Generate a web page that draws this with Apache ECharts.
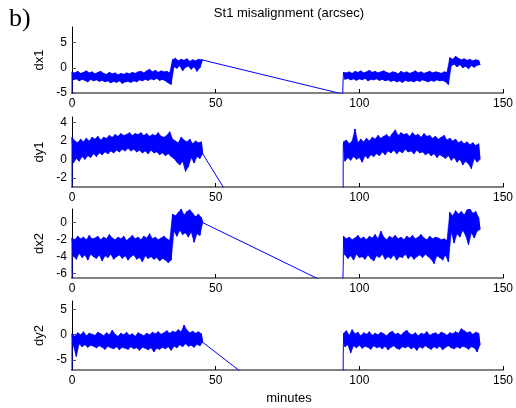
<!DOCTYPE html>
<html>
<head>
<meta charset="utf-8">
<script src="https://cdn.jsdelivr.net/npm/echarts@6.0.0/dist/echarts.min.js"></script>
<style>
  html, body { margin: 0; padding: 0; background: #fff; }
  #chart { width: 516px; height: 408px; }
</style>
</head>
<body>
<div id="chart"></div>
<script>
// ---- Sample times (minutes) ----
// First run: one sample pair per minute, from 0 to 45.
const seg1Minutes = [0,1,2,3,4,5,6,7,8,9,10,11,12,13,14,15,16,17,18,19,20,21,22,23,24,25,26,27,28,29,30,31,32,33,34,35,36,37,38,39,40,41,42,43,44,45];
// Second run: one sample pair per minute, from 94.5 to 141.5.
const seg2Minutes = [94.5,95.5,96.5,97.5,98.5,99.5,100.5,101.5,102.5,103.5,104.5,105.5,106.5,107.5,108.5,109.5,110.5,111.5,112.5,113.5,114.5,115.5,116.5,117.5,118.5,119.5,120.5,121.5,122.5,123.5,124.5,125.5,126.5,127.5,128.5,129.5,130.5,131.5,132.5,133.5,134.5,135.5,136.5,137.5,138.5,139.5,140.5,141.5];
// Outlier samples at the data gap
const gapMinute = 94.2;
const restartMinute = 94.4;

// ---- dx1 (arcsec): upper / lower excursion per minute ----
const dx1Start = -6;
const dx1Seg1Hi = [-0.9,-1.0,-0.7,-1.1,-0.9,-0.6,-1.0,-0.8,-1.2,-0.9,-0.7,-1.1,-1.3,-0.9,-1.2,-1.0,-1.4,-1.1,-1.3,-1.0,-1.2,-0.9,-1.1,-0.8,-0.7,-1.0,-0.6,-0.3,-0.8,-0.5,-0.9,-0.6,-0.8,-0.7,-1.0,
  1.6,1.9,1.4,1.7,1.5,1.8,1.3,1.6,1.4,1.7,1.6];
const dx1Seg1Lo = [-2.4,-2.2,-2.6,-2.3,-2.5,-2.8,-2.3,-2.6,-2.4,-2.7,-2.5,-2.8,-2.6,-3.0,-2.7,-2.9,-2.6,-3.1,-2.8,-2.7,-2.9,-2.6,-2.8,-2.4,-2.6,-2.3,-2.5,-2.2,-2.4,-2.1,-2.5,-2.3,-2.6,-3.0,-3.3,
  0.2,-0.1,0.4,-0.6,0.1,0.3,-0.3,0.2,-0.7,0.0,1.6];
const dx1Gap = -5.2;
const dx1Restart = -1.8;
const dx1Seg2Hi = [-0.9,-1.0,-0.8,-1.1,-0.7,-0.9,-0.6,-1.0,-0.8,-0.5,-0.9,-0.7,-1.0,-0.8,-0.6,-0.9,-1.1,-0.8,-0.9,-1.2,-0.7,-1.0,-0.8,-1.1,-0.9,-0.6,-1.0,-0.8,-1.1,-0.9,-0.7,-1.0,-0.8,-0.9,-1.1,-0.8,-0.9,
  2.0,1.7,2.3,1.9,1.6,1.8,1.5,1.7,1.4,1.6,1.5];
const dx1Seg2Lo = [-2.3,-2.1,-2.4,-2.2,-2.5,-2.2,-2.4,-2.1,-2.6,-2.3,-2.4,-2.2,-2.5,-2.3,-2.6,-2.4,-2.7,-2.5,-2.8,-2.6,-2.9,-2.5,-2.7,-2.6,-2.8,-2.5,-2.7,-2.4,-2.6,-2.8,-2.5,-2.7,-2.4,-2.6,-2.5,-2.8,-3.3,
  0.4,0.7,0.2,0.6,0.0,0.3,-0.2,0.4,0.1,0.5,0.6];

// ---- dy1 (arcsec) ----
const dy1Start = -4;
const dy1Seg1Hi = [2.4,2.0,1.8,2.2,1.9,2.3,2.0,2.4,2.2,2.5,2.1,2.4,2.3,2.6,2.4,2.7,2.5,2.8,2.6,2.7,2.9,2.6,2.8,2.7,2.9,2.6,2.8,2.5,2.7,2.6,2.9,2.5,2.4,2.6,3.0,2.2,2.0,1.8,2.4,2.1,1.9,2.2,1.7,2.0,1.8,1.9];
const dy1Seg1Lo = [-0.4,0.1,-0.2,0.3,0.0,0.4,0.2,0.6,0.3,0.7,0.5,0.8,0.6,0.9,0.7,1.0,0.8,1.1,0.9,1.2,0.9,1.1,0.8,1.0,0.7,0.9,0.6,1.0,0.7,0.8,0.5,0.7,0.4,0.6,0.3,0.1,-0.3,-0.6,-0.2,-1.3,-0.8,0.2,-0.4,0.3,0.1,0.6];
const dy1Gap = -24;
const dy1Restart = 1.2;
const dy1Seg2Hi = [1.9,2.1,1.7,2.0,3.3,1.8,2.2,1.9,2.3,2.0,2.4,2.2,2.6,2.3,2.5,2.7,2.4,2.8,3.2,2.6,2.9,2.7,2.8,2.5,2.9,2.6,2.7,2.4,2.8,2.5,2.6,2.3,2.5,2.2,2.4,2.6,2.1,2.3,2.0,2.2,1.8,2.0,1.7,1.9,1.6,1.8,1.5,1.7];
const dy1Seg2Lo = [-0.2,0.2,-0.1,0.3,0.0,0.2,-0.3,0.4,0.1,0.5,0.3,0.6,0.4,0.8,0.5,0.9,0.7,1.0,0.6,0.9,0.7,1.1,0.8,0.9,0.6,1.0,0.7,0.8,0.5,0.7,0.4,0.6,0.2,0.5,0.3,0.1,0.4,-0.1,0.2,-0.3,0.0,-0.6,-0.2,-0.5,-1.0,0.1,-0.3,0.0];

// ---- dx2 (arcsec) ----
const dx2Start = -7;
const dx2Seg1Hi = [-1.8,-2.0,-1.6,-1.9,-1.7,-2.0,-1.5,-1.9,-1.8,-1.6,-2.0,-1.7,-1.9,-1.4,-1.8,-2.0,-1.7,-1.9,-1.6,-2.1,-1.8,-1.5,-1.9,-1.7,-2.0,-1.6,-1.8,-1.3,-1.9,-1.7,-2.0,-1.8,-1.6,-1.9,-2.1,
  1.0,0.8,1.2,1.6,0.9,1.3,1.5,1.1,0.7,1.0,0.6];
const dx2Seg1Lo = [-3.9,-4.3,-3.6,-4.1,-3.8,-4.4,-3.7,-4.0,-4.2,-3.8,-4.5,-3.9,-4.1,-3.7,-4.3,-4.0,-3.8,-4.2,-3.9,-4.4,-4.0,-3.8,-4.3,-4.1,-4.6,-3.9,-4.2,-4.0,-4.3,-4.1,-4.5,-4.2,-4.4,-4.7,-4.4,
  -1.0,-1.6,-0.9,-1.4,-1.2,-1.7,-1.1,-2.3,-1.3,-1.5,0.0];
const dx2Gap = -8.0;
const dx2Restart = -5.0;
const dx2Seg2Hi = [-1.6,-1.9,-1.7,-2.0,-1.8,-1.5,-1.9,-1.7,-2.0,-1.6,-1.8,-1.4,-1.9,-1.0,-1.7,-2.0,-1.6,-1.8,-1.5,-1.9,-1.7,-2.0,-1.6,-1.8,-1.5,-1.9,-1.7,-1.4,-1.8,-2.0,-1.6,-1.9,-1.7,-1.8,-2.0,-1.9,-2.1,
  1.2,0.8,1.4,1.0,1.3,0.9,1.5,1.6,1.1,1.3,0.6];
const dx2Seg2Lo = [-3.8,-4.2,-3.9,-4.4,-3.7,-4.1,-4.0,-4.3,-3.8,-4.2,-4.5,-3.9,-4.1,-3.7,-4.3,-4.0,-4.2,-3.8,-4.4,-4.0,-4.1,-3.7,-4.2,-3.9,-4.3,-4.0,-3.8,-4.1,-3.7,-4.0,-4.3,-4.8,-3.9,-4.1,-4.4,-3.8,-4.6,
  -1.1,-2.4,-1.3,-1.7,-0.9,-1.5,-2.6,-1.2,-1.8,-1.0,-0.8];

// ---- dy2 (arcsec) ----
const dy2Start = -8;
const dy2Seg1Hi = [0.2,-0.3,0.4,0.0,0.6,-0.2,0.3,0.1,-0.1,0.5,0.2,-0.2,0.4,0.0,0.9,0.1,-0.3,0.3,0.0,0.5,-0.1,0.2,-0.3,0.4,0.1,-0.2,0.3,0.0,0.5,0.2,0.6,0.1,0.4,0.8,0.3,0.7,0.5,1.0,0.6,1.9,0.9,0.4,0.7,0.3,0.6,0.2];
const dy2Seg1Lo = [-2.2,-4.3,-1.8,-2.4,-2.0,-2.5,-2.1,-2.3,-2.6,-2.2,-2.5,-2.9,-2.3,-2.6,-2.8,-2.4,-3.0,-2.5,-2.7,-2.9,-2.4,-2.8,-2.6,-3.1,-2.5,-2.7,-3.0,-2.6,-3.4,-2.7,-2.9,-2.5,-2.8,-2.4,-3.1,-2.3,-2.6,-2.0,-2.4,-1.8,-2.3,-2.1,-2.5,-1.9,-2.2,-1.5];
const dy2Gap = -23;
const dy2Restart = -4.6;
const dy2Seg2Hi = [0.3,0.8,-0.1,1.0,0.2,0.5,-0.2,0.4,0.1,0.6,-0.1,0.3,0.0,0.5,0.2,-0.2,0.4,0.7,0.1,0.3,-0.1,0.5,0.9,0.2,0.0,0.4,-0.2,0.3,0.1,0.6,-0.1,0.2,0.4,0.0,0.5,0.3,-0.1,0.4,0.2,0.6,0.3,1.2,0.8,0.4,0.6,0.1,0.5,0.3];
const dy2Seg2Lo = [-2.4,-2.0,-3.6,-2.2,-2.6,-2.1,-2.7,-2.3,-2.5,-2.9,-2.2,-2.6,-2.4,-2.8,-2.3,-3.0,-2.5,-2.2,-2.7,-2.9,-2.4,-2.6,-2.3,-2.8,-2.5,-3.1,-2.4,-2.7,-2.2,-2.6,-2.9,-2.4,-2.7,-2.3,-3.0,-2.5,-2.2,-2.6,-2.8,-2.4,-2.7,-2.3,-2.5,-2.9,-2.4,-2.6,-3.4,-2.0];

// ---- Axis labels and ranges ----
const panelNames = ['dx1', 'dy1', 'dx2', 'dy2'];
const xTickValues = [0, 50, 100, 150];
const yTickValues = [[-5, 0, 5], [-2, 0, 2, 4], [-6, -4, -2, 0], [-5, 0, 5]];
const yMinValues = [-5, -3, -6.5, -7];
const yMaxValues = [8.1, 4.6, 1.6, 6.7];

// Envelope tables per panel: [start, seg1Hi, seg1Lo, gap, restart, seg2Hi, seg2Lo]
const panelData = [
  [dx1Start, dx1Seg1Hi, dx1Seg1Lo, dx1Gap, dx1Restart, dx1Seg2Hi, dx1Seg2Lo],
  [dy1Start, dy1Seg1Hi, dy1Seg1Lo, dy1Gap, dy1Restart, dy1Seg2Hi, dy1Seg2Lo],
  [dx2Start, dx2Seg1Hi, dx2Seg1Lo, dx2Gap, dx2Restart, dx2Seg2Hi, dx2Seg2Lo],
  [dy2Start, dy2Seg1Hi, dy2Seg1Lo, dy2Gap, dy2Restart, dy2Seg2Hi, dy2Seg2Lo]
];

// Continuous trace: upper and lower excursions alternate, plus the gap outliers
function buildTrace(d) {
  const [start, s1Hi, s1Lo, gap, restart, s2Hi, s2Lo] = d;
  const pts = [[0, start]];
  seg1Minutes.forEach((t, i) => { pts.push([t, s1Hi[i]], [t + 0.5, s1Lo[i]]); });
  pts.push([gapMinute, gap], [restartMinute, restart]);
  seg2Minutes.forEach((t, i) => { pts.push([t, s2Hi[i]], [t + 0.5, s2Lo[i]]); });
  return pts;
}

// Dense noise band of one run, filled between its upper and lower excursions
function bandRenderer(d) {
  return function (params, api) {
    const run = api.value(0);
    const times = run === 0 ? seg1Minutes : seg2Minutes;
    const hi = run === 0 ? d[1] : d[5];
    const lo = run === 0 ? d[2] : d[6];
    const top = times.map((t, i) => api.coord([t, hi[i]]));
    const bottom = times.map((t, i) => api.coord([t + 0.5, lo[i]])).reverse();
    return {
      type: 'polygon',
      shape: { points: top.concat(bottom) },
      style: { fill: '#0000ff', stroke: '#0000ff', lineWidth: 0.6 }
    };
  };
}

// ---- Layout ----
const gridTops = [27, 117, 209, 301];
const gridHeights = [66, 70, 69, 69];
const FONT = '"Liberation Sans", Arial, Helvetica, sans-serif';

const grids = [], xAxes = [], yAxes = [], series = [];
panelNames.forEach((name, i) => {
  grids.push({ left: 72, width: 435, top: gridTops[i], height: gridHeights[i], containLabel: false });
  xAxes.push({
    gridIndex: i, type: 'value', min: 0, max: 150,
    axisLine: { show: true, onZero: false, lineStyle: { color: '#808080', width: 2 } },
    axisTick: { show: true, inside: true, length: 4, customValues: xTickValues, lineStyle: { color: '#000', width: 1 } },
    axisLabel: { show: true, customValues: xTickValues, margin: 5, color: '#000', fontSize: 12, fontFamily: FONT },
    splitLine: { show: false }
  });
  yAxes.push({
    gridIndex: i, type: 'value', min: yMinValues[i], max: yMaxValues[i],
    name: name, nameLocation: 'middle', nameGap: 20, nameRotate: 90,
    nameTextStyle: { color: '#000', fontSize: 13, fontFamily: FONT },
    axisLine: { show: true, onZero: false, lineStyle: { color: '#000', width: 1 } },
    axisTick: { show: true, inside: true, length: 4, customValues: yTickValues[i], lineStyle: { color: '#555', width: 1 } },
    axisLabel: { show: true, customValues: yTickValues[i], margin: 5, color: '#000', fontSize: 12, fontFamily: FONT },
    splitLine: { show: false }
  });
  series.push({
    type: 'custom', xAxisIndex: i, yAxisIndex: i, silent: true, clip: true,
    data: [[0, 0], [1, 0]],
    renderItem: bandRenderer(panelData[i])
  });
  series.push({
    type: 'line', xAxisIndex: i, yAxisIndex: i, data: buildTrace(panelData[i]),
    symbol: 'none', showSymbol: false, clip: true, silent: true,
    lineStyle: { color: '#0000ff', width: 1 }
  });
});

const chart = echarts.init(document.getElementById('chart'), null, { renderer: 'canvas' });
chart.setOption({
  animation: false,
  backgroundColor: '#fff',
  grid: grids,
  xAxis: xAxes,
  yAxis: yAxes,
  series: series,
  graphic: [
    { type: 'text', x: 9, y: 19, style: { text: 'b)', font: '26px "Liberation Serif", "Times New Roman", serif', fill: '#000', textAlign: 'left', textVerticalAlign: 'middle' } },
    { type: 'text', x: 289, y: 13, style: { text: 'St1 misalignment (arcsec)', font: '13px ' + FONT, fill: '#000', textAlign: 'center', textVerticalAlign: 'middle' } },
    { type: 'text', x: 289, y: 398, style: { text: 'minutes', font: '13px ' + FONT, fill: '#000', textAlign: 'center', textVerticalAlign: 'middle' } }
  ]
});
</script>
</body>
</html>
